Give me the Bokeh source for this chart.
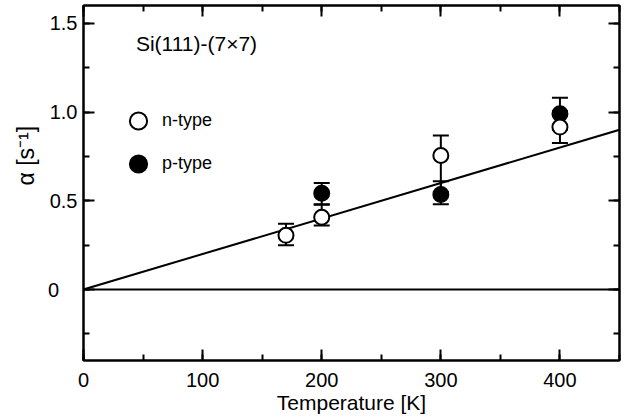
from bokeh.plotting import figure
from bokeh.models import (Range1d, LinearAxis, SingleIntervalTicker, Slope, Span, Label,
                          Legend, LegendItem, CustomJSTickFormatter, Title)
from bokeh.embed import file_html
from bokeh.resources import INLINE

# ---- data ----
n_temp = [170, 200, 300, 400]
n_alpha = [0.305, 0.407, 0.755, 0.915]
n_low = [0.25, 0.36, 0.55, 0.825]
n_high = [0.37, 0.478, 0.868, 1.005]

p_temp = [200, 300, 400]
p_alpha = [0.542, 0.535, 0.99]
p_low = [0.48, 0.48, 0.90]
p_high = [0.60, 0.61, 1.08]

fit_slope = 0.002  # alpha = slope * T
y_tick_labels = {0: "0\u00a0\u00a0\u00a0\u200a", 0.5: "0.5", 1: "1.0", 1.5: "1.5"}

FONT = "Liberation Sans"
X0, X1, Y0, Y1 = 0, 450, -0.4, 1.6

p = figure(width=622, height=418, x_range=Range1d(X0, X1), y_range=Range1d(Y0, Y1),
           output_backend="svg", toolbar_location=None,
           min_border_left=83, min_border_right=3, min_border_top=5, min_border_bottom=58)
p.grid.visible = False
p.outline_line_color = "black"
p.outline_line_width = 2
p.background_fill_color = "white"
p.border_fill_color = "white"


def style_axis(ax, show_labels=True):
    ax.axis_line_color = "black"
    ax.axis_line_width = 2
    ax.major_tick_in = 11
    ax.major_tick_out = 0
    ax.minor_tick_in = 6
    ax.minor_tick_out = 0
    ax.major_tick_line_width = 2
    ax.minor_tick_line_width = 2
    ax.major_tick_line_color = "black"
    ax.minor_tick_line_color = "black"
    if show_labels:
        ax.major_label_text_font = FONT
        ax.major_label_text_font_size = "20px"
        ax.major_label_text_color = "black"
    else:
        ax.formatter = CustomJSTickFormatter(code="return ''")
        ax.major_label_text_font_size = "1px"
        ax.major_label_standoff = 0


xb = p.xaxis[0]
xb.ticker = SingleIntervalTicker(interval=100, num_minor_ticks=2)
style_axis(xb)
xb.major_label_standoff = 12
xb.axis_label = "Temperature [K]"
xb.axis_label_text_font = FONT
xb.axis_label_text_font_size = "21px"
xb.axis_label_text_font_style = "normal"
xb.axis_label_text_color = "black"
xb.axis_label_standoff = 1

yl = p.yaxis[0]
yl.ticker = SingleIntervalTicker(interval=0.5, num_minor_ticks=2)
style_axis(yl)
yl.major_label_standoff = 6
yl.major_label_overrides = y_tick_labels

xt = LinearAxis(ticker=SingleIntervalTicker(interval=100, num_minor_ticks=2))
style_axis(xt, False)
p.add_layout(xt, "above")
yr = LinearAxis(ticker=SingleIntervalTicker(interval=0.5, num_minor_ticks=2))
style_axis(yr, False)
p.add_layout(yr, "right")

# y-axis title as a side title so that it can sit above the frame centre
ytitle = Title(text="\u03b1 [s\u207b\u00b9]", align="left", offset=175, standoff=13,
               text_font=FONT, text_font_size="23px", text_font_style="normal",
               text_color="black")
p.add_layout(ytitle, "left")

# zero line and linear fit
p.add_layout(Span(location=0, dimension="width", line_color="black", line_width=2, level="underlay"))
p.add_layout(Slope(gradient=fit_slope, y_intercept=0, line_color="black", line_width=2, level="underlay"))

# p-type: error bars then markers
p.segment(x0=p_temp, y0=p_low, x1=p_temp, y1=p_high, line_color="black", line_width=2)
p.scatter(x=p_temp, y=p_low, marker="dash", size=16, line_color="black", line_width=2)
p.scatter(x=p_temp, y=p_high, marker="dash", size=16, line_color="black", line_width=2)
p_r = p.scatter(x=p_temp, y=p_alpha, marker="circle", size=15, fill_color="black",
                line_color="black", line_width=2)

# n-type: error bars then markers
p.segment(x0=n_temp, y0=n_low, x1=n_temp, y1=n_high, line_color="black", line_width=2)
p.scatter(x=n_temp, y=n_low, marker="dash", size=16, line_color="black", line_width=2)
p.scatter(x=n_temp, y=n_high, marker="dash", size=16, line_color="black", line_width=2)
n_r = p.scatter(x=n_temp, y=n_alpha, marker="circle", size=15, fill_color="white",
                line_color="black", line_width=2)

legend = Legend(items=[LegendItem(label="n-type", renderers=[n_r]),
                       LegendItem(label="p-type", renderers=[p_r])],
                location=(31, 175), glyph_width=48, glyph_height=43, spacing=0,
                padding=0, margin=0, label_standoff=0, border_line_color=None,
                background_fill_alpha=0, label_text_font=FONT, label_text_font_size="18px",
                label_text_color="black", label_text_baseline="middle")
p.add_layout(legend)

p.add_layout(Label(x=44, y=1.386, text="Si(111)-(7\u00d77)", text_font=FONT,
                   text_font_size="21px", text_baseline="middle", text_color="black"))

open("out.html", "w").write(file_html(p, INLINE))
